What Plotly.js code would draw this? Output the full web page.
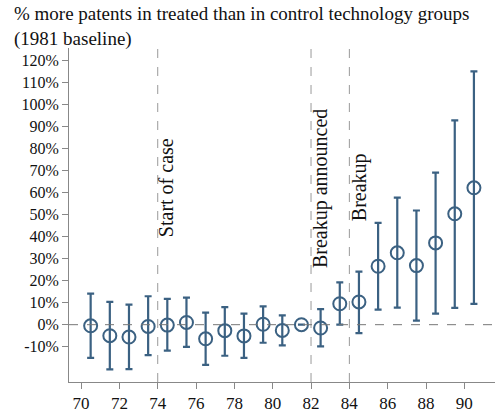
<!DOCTYPE html>
<html>
<head>
<meta charset="utf-8">
<script src="https://cdn.plot.ly/plotly-3.0.1.min.js"></script>
<style>html,body{margin:0;padding:0;background:#fff;}#chart{width:500px;height:414px;}</style>
</head>
<body>
<div id="chart"></div>
<script>
// Event years (points drawn at year + 0.5, as in the reference)
const years = [70,71,72,73,74,75,76,77,78,79,80,81,82,83,84,85,86,87,88,89,90];
// Point estimates (% more patents, 1981 baseline)
const estimate = [-0.5,-5.0,-5.6,-0.8,-0.2,1.0,-6.4,-2.7,-5.1,0.2,-2.6,0,-1.5,9.5,10.3,26.5,32.6,26.8,37.1,50.3,62.1];
// Upper and lower bounds of the confidence intervals
const upper = [14.1,10.3,9.1,12.9,11.7,12.3,5.5,8.0,5.0,8.3,4.2,0,7.1,19.2,24.1,46.2,57.6,51.8,69.0,92.7,114.9];
const lower = [-15.1,-20.3,-20.2,-13.8,-11.8,-10.1,-18.2,-14.1,-15.1,-8.2,-9.4,0,-9.8,0,-3.8,6.8,7.7,1.8,5.0,7.6,9.4];
// Event markers
const eventYears = [74,82,84];
const eventLabels = ["Start of case","Breakup announced","Breakup"];
const eventLabelY = [38.9,24.8,46.0];
// Tick labels
const xTicks = [70,72,74,76,78,80,82,84,86,88,90];
const yTicks = [-10,0,10,20,30,40,50,60,70,80,90,100,110,120];
const titleText = '% more patents in treated than in control technology groups<br>(1981 baseline)';

const xPos = years.map(y => y + 0.5);
const errPlus = upper.map((u,i) => u - estimate[i]);
const errMinus = estimate.map((e,i) => e - lower[i]);

const color = '#3b6182';
const font = 'Liberation Serif, "DejaVu Serif", serif';

const trace = {
  x: xPos, y: estimate, type: 'scatter', mode: 'markers',
  marker: {symbol: 'circle-open', size: 13, color: color, line: {width: 2, color: color}},
  error_y: {type: 'data', symmetric: false, array: errPlus, arrayminus: errMinus,
            color: color, thickness: 2.2, width: 3.5},
  hoverinfo: 'skip', showlegend: false
};

const shapes = eventYears.map(x => ({
  type: 'line', xref: 'x', yref: 'paper', x0: x, x1: x, y0: 0, y1: 1,
  line: {color: '#999', width: 1, dash: 'dash'}
}));
shapes.push({type: 'line', xref: 'paper', yref: 'y', x0: 0, x1: 1, y0: 0, y1: 0,
  line: {color: '#777', width: 1, dash: 'dash'}});

const annotations = eventYears.map((x,i) => ({
  x: x, y: eventLabelY[i], xref: 'x', yref: 'y', text: eventLabels[i],
  textangle: -90, showarrow: false, xanchor: 'left', yanchor: 'bottom',
  xshift: -4, font: {family: font, size: 20, color: '#111'}
}));
annotations.push({
  text: titleText, xref: 'paper', yref: 'paper', x: -0.134, y: 1.14,
  xanchor: 'left', yanchor: 'top', align: 'left', showarrow: false,
  font: {family: font, size: 19, color: '#111'}
});

const layout = {
  width: 500, height: 414,
  margin: {l: 69, r: 5, t: 48, b: 32},
  paper_bgcolor: '#fff', plot_bgcolor: '#fff',
  font: {family: font, color: '#111', size: 16},
  xaxis: {range: [69.37, 91.6], tickmode: 'array', tickvals: xTicks, ticktext: xTicks.map(String),
          showgrid: false, zeroline: false, showline: true, linecolor: '#888', linewidth: 1,
          ticks: 'outside', ticklen: 6, tickcolor: '#888', tickfont: {family: font, size: 17, color: '#111'}},
  yaxis: {range: [-26, 125.5], tickmode: 'array', tickvals: yTicks, ticktext: yTicks.map(v => v + '%'),
          showgrid: false, zeroline: false, showline: true, linecolor: '#888', linewidth: 1,
          ticks: 'outside', ticklen: 6, tickcolor: '#888', tickfont: {family: font, size: 16, color: '#111'}},
  shapes: shapes, annotations: annotations
};

Plotly.newPlot('chart', [trace], layout, {displayModeBar: false, staticPlot: true});
</script>
</body>
</html>
